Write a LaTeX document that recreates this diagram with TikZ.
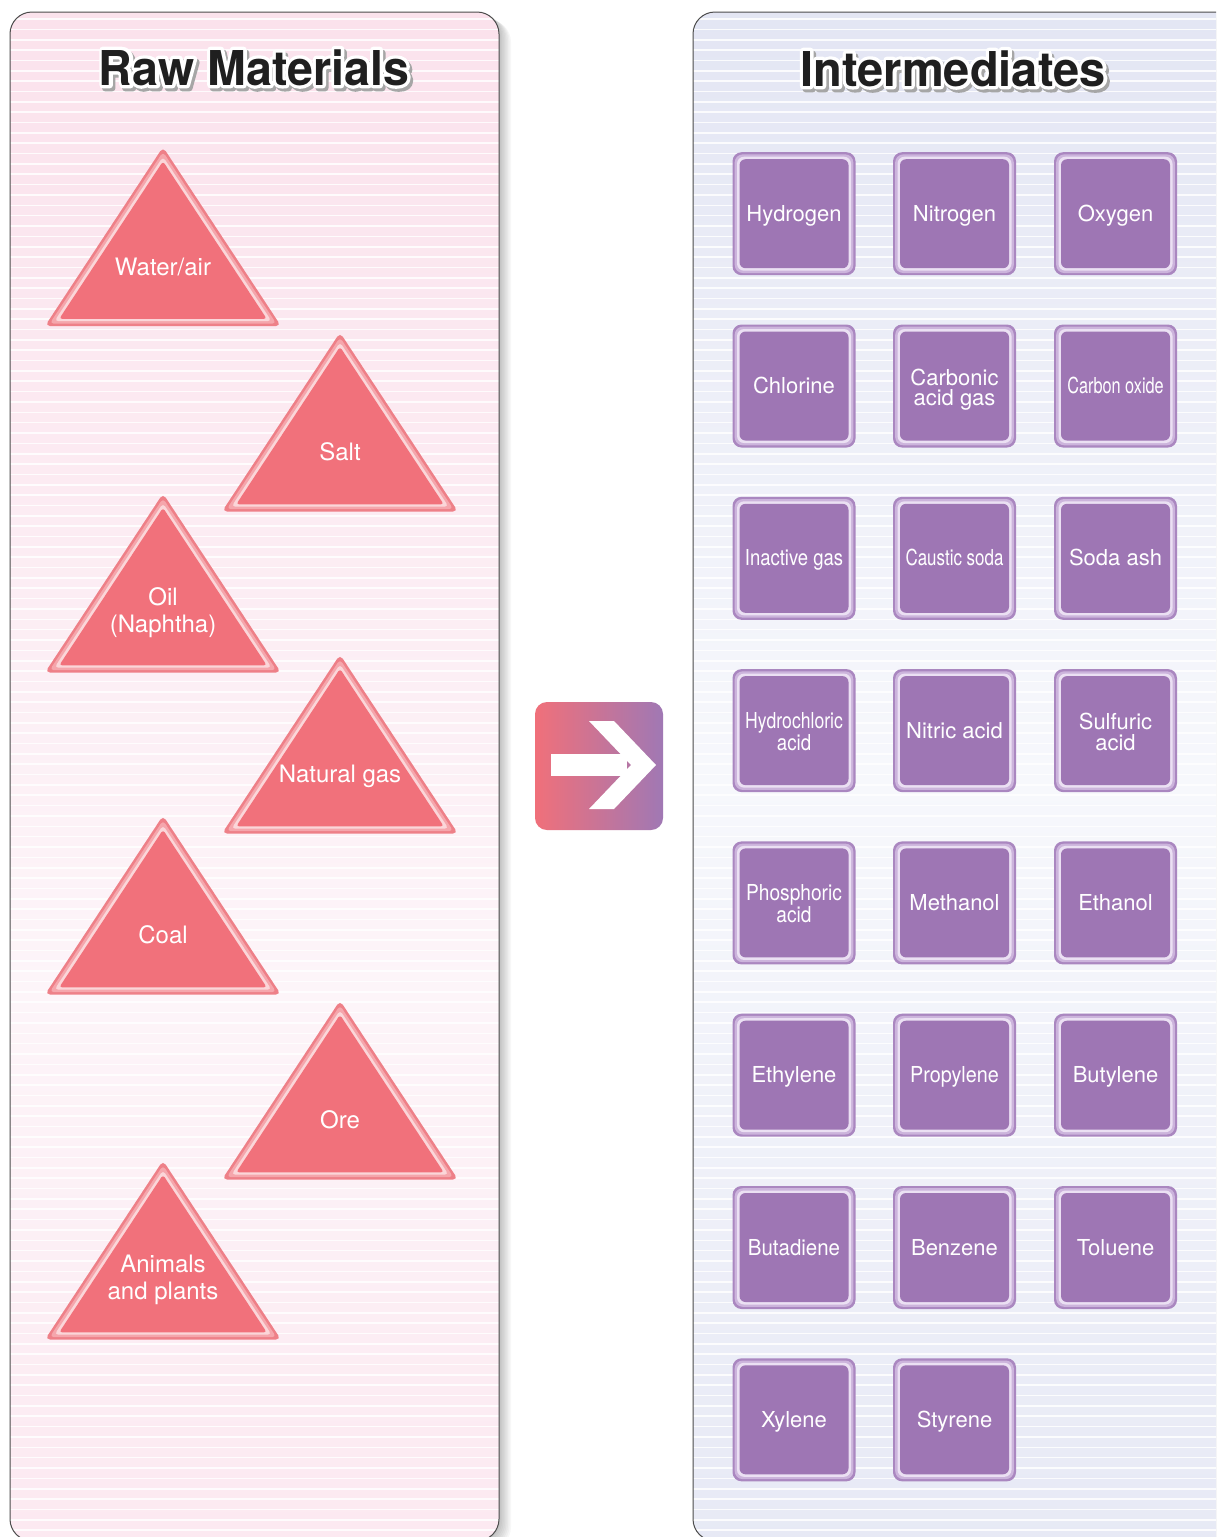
\documentclass[tikz,border=0pt]{standalone}
\usepackage{fontspec}
\setmainfont{TeX Gyre Heros}
\newfontface\ttlfat{TeX Gyre Heros Bold}[FakeBold=14]
\definecolor{lpk}{RGB}{250,220,232}
\definecolor{lwh}{RGB}{253,245,249}
\definecolor{rlv}{RGB}{219,222,240}
\definecolor{rwh}{RGB}{247,248,252}
\definecolor{trifill}{RGB}{241,113,123}
\definecolor{tririmA}{RGB}{238,128,136}
\definecolor{tririmB}{RGB}{245,166,172}
\definecolor{tririmC}{RGB}{251,214,217}
\definecolor{boxfill}{RGB}{158,118,180}
\definecolor{boxrimA}{RGB}{170,135,192}
\definecolor{boxrimB}{RGB}{204,180,220}
\definecolor{boxrimC}{RGB}{235,224,243}
\definecolor{arrL}{RGB}{240,112,122}
\definecolor{arrR}{RGB}{160,120,180}
\pgfdeclareverticalshading{lpanelsh}{100bp}{color(0bp)=(lpk); color(6bp)=(lpk); color(43bp)=(lwh); color(85bp)=(lpk); color(100bp)=(lpk)}
\pgfdeclareverticalshading{rpanelsh}{100bp}{color(0bp)=(rlv); color(6bp)=(rlv); color(50bp)=(rwh); color(85bp)=(rlv); color(100bp)=(rlv)}
\newcommand\cnd[2]{\scalebox{#1}[1]{#2}}
\newcommand\rj[1]{\pgfsetroundjoin\pgfsetmiterlimit{1}#1}
\tikzset{
  boxtxt/.style={text=white, font=\fontsize{22}{20.5}\selectfont, align=center, inner sep=0pt},
  tritxt/.style={text=white, font=\fontsize{24}{27}\selectfont, align=center, inner sep=0pt},
  ttlsty/.style={font=\fontsize{48}{48}\bfseries\selectfont, inner sep=0pt},
  ttlfatsty/.style={font=\fontsize{48}{48}\ttlfat, inner sep=0pt, line join=round, miter limit=1},
  stripe/.style={white, opacity=0.85, line width=1.6pt},
  panelborder/.style={black!70, line width=1pt, rounded corners=22}
}
% name, cx, centroid y, text, baseline offset (last line)
\newcommand\tri[5]{%
  \begin{scope}[shift={(#2,#3)}]
    \fill[tririmA, rounded corners=5] (0,-119.5) -- (118,59.5) -- (-118,59.5) -- cycle;
    \fill[tririmB, rounded corners=4] (0,-114.7) -- (113.3,57.1) -- (-113.3,57.1) -- cycle;
    \fill[tririmC, rounded corners=4] (0,-109.9) -- (108.6,54.7) -- (-108.6,54.7) -- cycle;
    \fill[trifill, rounded corners=3] (0,-105.2) -- (103.8,52.4) -- (-103.8,52.4) -- cycle;
  \end{scope}
  \node[tritxt, anchor=base] (#1) at (#2,#3+#5) {#4};}
% name, cx, cy, text, baseline offset (last line)
\newcommand\pbox[5]{%
  \fill[boxrimA, rounded corners=9] (#2-61.5,#3-61.5) rectangle (#2+61.5,#3+61.5);
  \fill[boxrimB, rounded corners=8] (#2-59.3,#3-59.3) rectangle (#2+59.3,#3+59.3);
  \fill[boxrimC, rounded corners=7] (#2-57,#3-57) rectangle (#2+57,#3+57);
  \fill[boxfill, rounded corners=6] (#2-54.5,#3-54.5) rectangle (#2+54.5,#3+54.5);
  \node[boxtxt, anchor=base] (#1) at (#2,#3+#5) {#4};}
% name, x, baseline y, text
\newcommand\ttl[4]{%
  \node[ttlfatsty, text=black!35, anchor=base] (#1s) at (#2+2.5,#3+3) {\rj{#4}};
  \node[ttlfatsty, text=white, anchor=base] (#1w) at (#2,#3) {\rj{#4}};
  \node[ttlsty, text=black!88, anchor=base] (#1) at (#2,#3) {#4};}
\begin{document}
\begin{tikzpicture}[x=1pt,y=-1pt]
\useasboundingbox (0,0) rectangle (1216,1537);
\fill[white] (0,0) rectangle (1216,1537);
\clip (0,0) rectangle (1216,1537);
% ---------- left panel ----------
\foreach \i in {1,...,8} \fill[black, opacity=0.03, rounded corners=22] ({10+1.5*\i},{12+\i}) rectangle ({499+1.5*\i},{1541+\i});
\shade[shading=lpanelsh, rounded corners=22] (10,12) rectangle (499,1541);
\begin{scope}
  \clip[rounded corners=22] (10,12) rectangle (499,1541);
  \foreach \k in {0,...,148} \draw[stripe] (10,{19+10.35*\k}) -- (499,{19+10.35*\k});
\end{scope}
\draw[panelborder] (10,12) rectangle (499,1541);
% ---------- right panel ----------
\foreach \i in {1,...,8} \fill[black, opacity=0.03, rounded corners=22] ({693+1.5*\i},{12+\i}) rectangle ({1260+1.5*\i},{1541+\i});
\shade[shading=rpanelsh, rounded corners=22] (693,12) rectangle (1260,1541);
\begin{scope}
  \clip[rounded corners=22] (693,12) rectangle (1260,1541);
  \foreach \k in {0,...,148} \draw[stripe] (693,{19+10.35*\k}) -- (1260,{19+10.35*\k});
\end{scope}
\draw[panelborder] (693,12) rectangle (1260,1541);
% ---------- titles ----------
\ttl{rawt}{254}{85}{\cnd{0.97}{Raw Materials}}
\ttl{intt}{953}{86}{\cnd{0.98}{Intermediates}}
% ---------- triangles ----------
\tri{water}{163}{266.5}{Water/air}{8.7}
\tri{salt}{340}{452}{Salt}{8.7}
\tri{oil}{163}{613}{Oil\\(Naphtha)}{19}
\tri{natgas}{340}{774}{Natural gas}{8.7}
\tri{coal}{163}{935}{Coal}{8.7}
\tri{ore}{340}{1120}{Ore}{8.7}
\tri{animals}{163}{1280}{Animals\\and plants}{19.2}
% ---------- arrow ----------
\node[minimum width=128pt, minimum height=128pt, rounded corners=12pt, left color=arrL, right color=arrR, inner sep=0pt] (arrowbox) at (599,766) {};
\fill[white] (551,754) rectangle (627,776);
\fill[white] (589,721) -- (614,721) -- (656,765) -- (614,809) -- (589,809) -- (631,765) -- cycle;
% ---------- boxes ----------
\def\ca{794}\def\cb{954.5}\def\cc{1115.5}
\pbox{hyd}{\ca}{213.7}{Hydrogen}{7.5}
\pbox{nit}{\cb}{213.7}{Nitrogen}{7.5}
\pbox{oxy}{\cc}{213.7}{Oxygen}{7.5}
\pbox{chl}{\ca}{386}{Chlorine}{7.5}
\pbox{cag}{\cb}{386}{Carbonic\\acid gas}{19.5}
\pbox{cox}{\cc}{386}{\cnd{0.74}{Carbon oxide}}{7.5}
\pbox{ing}{\ca}{558.3}{\cnd{0.84}{Inactive gas}}{7.5}
\pbox{cso}{\cb}{558.3}{\cnd{0.77}{Caustic soda}}{7.5}
\pbox{sash}{\cc}{558.3}{Soda ash}{7.5}
\pbox{hcl}{\ca}{730.6}{\cnd{0.8}{Hydrochloric}\\\cnd{0.85}{acid}}{19.5}
\pbox{hno}{\cb}{730.6}{Nitric acid}{7.5}
\pbox{hso}{\cc}{730.6}{Sulfuric\\acid}{19.5}
\pbox{hpo}{\ca}{902.9}{\cnd{0.87}{Phosphoric}\\\cnd{0.87}{acid}}{19.5}
\pbox{meth}{\cb}{902.9}{Methanol}{7.5}
\pbox{eth}{\cc}{902.9}{Ethanol}{7.5}
\pbox{ethy}{\ca}{1075.2}{Ethylene}{7.5}
\pbox{prop}{\cb}{1075.2}{\cnd{0.9}{Propylene}}{7.5}
\pbox{buty}{\cc}{1075.2}{Butylene}{7.5}
\pbox{buta}{\ca}{1247.5}{\cnd{0.93}{Butadiene}}{7.5}
\pbox{benz}{\cb}{1247.5}{Benzene}{7.5}
\pbox{tolu}{\cc}{1247.5}{Toluene}{7.5}
\pbox{xyl}{\ca}{1419.8}{Xylene}{7.5}
\pbox{sty}{\cb}{1419.8}{Styrene}{7.5}
\end{tikzpicture}
\end{document}
